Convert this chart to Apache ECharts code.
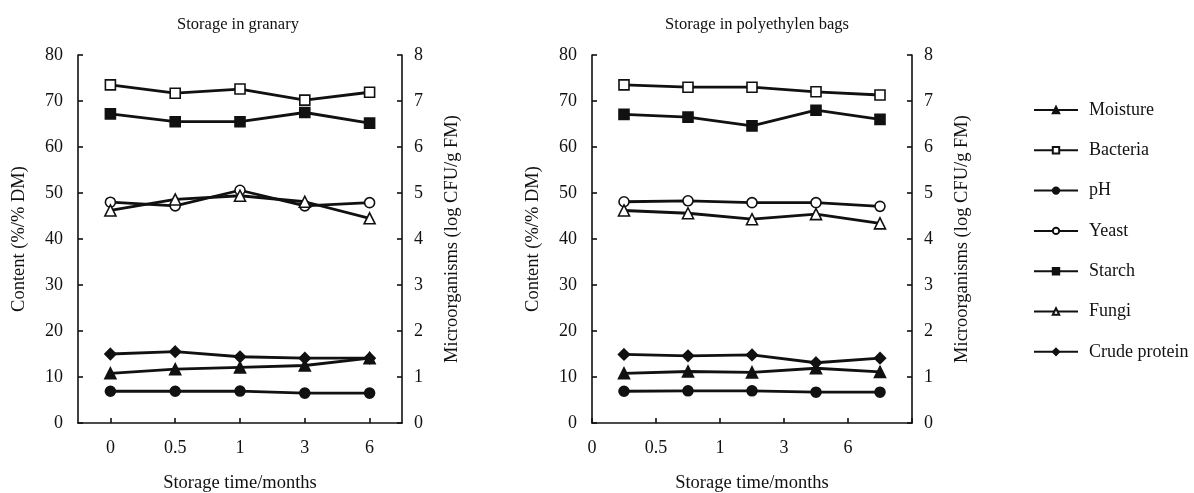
<!DOCTYPE html>
<html>
<head>
<meta charset="utf-8">
<script src="https://cdn.jsdelivr.net/npm/echarts@6/dist/echarts.min.js"></script>
<style>html,body{margin:0;padding:0;background:#fff}#c{width:1194px;height:493px}</style>
</head>
<body>
<div id="c"></div>
<script>
// Categories / tick labels
const categories = ['0', '0.5', '1', '3', '6'];
const bagTickLabels = ['0', '0.5', '1', '3', '6'];
const seriesNames = ['Moisture', 'Bacteria', 'pH', 'Yeast', 'Starch', 'Fungi', 'Crude protein'];

// Storage in granary
const moistureG = [10.8, 11.7, 12.1, 12.5, 14.1];
const bacteriaG = [7.35, 7.17, 7.26, 7.02, 7.19];
const phG = [6.9, 6.9, 6.95, 6.5, 6.5];
const yeastG = [4.80, 4.72, 5.06, 4.72, 4.79];
const starchG = [67.2, 65.5, 65.5, 67.5, 65.2];
const fungiG = [4.62, 4.86, 4.94, 4.81, 4.45];
const proteinG = [15.0, 15.5, 14.4, 14.1, 14.1];

// Storage in polyethylen bags
const moistureB = [10.8, 11.2, 11.0, 11.9, 11.1];
const bacteriaB = [7.35, 7.30, 7.30, 7.20, 7.13];
const phB = [6.9, 7.0, 7.0, 6.7, 6.7];
const yeastB = [4.81, 4.83, 4.79, 4.79, 4.71];
const starchB = [67.1, 66.5, 64.6, 68.0, 66.0];
const fungiB = [4.62, 4.56, 4.43, 4.54, 4.34];
const proteinB = [14.9, 14.6, 14.8, 13.1, 14.1];

const FONT = 'Liberation Serif';
const C = '#111';

// style per series: symbol, filled?, which y axis (0 = content, 1 = microorganisms)
const styleMap = {
  'Moisture': { symbol: 'triangle', filled: true, axis: 0 },
  'Bacteria': { symbol: 'rect', filled: false, axis: 1 },
  'pH': { symbol: 'circle', filled: true, axis: 0 },
  'Yeast': { symbol: 'circle', filled: false, axis: 1 },
  'Starch': { symbol: 'rect', filled: true, axis: 0 },
  'Fungi': { symbol: 'triangle', filled: false, axis: 1 },
  'Crude protein': { symbol: 'diamond', filled: true, axis: 0 }
};

const granary = {
  'Moisture': moistureG, 'Bacteria': bacteriaG, 'pH': phG, 'Yeast': yeastG,
  'Starch': starchG, 'Fungi': fungiG, 'Crude protein': proteinG
};
const bags = {
  'Moisture': moistureB, 'Bacteria': bacteriaB, 'pH': phB, 'Yeast': yeastB,
  'Starch': starchB, 'Fungi': fungiB, 'Crude protein': proteinB
};

function makeSeries(name, data, gridIdx, xIdx) {
  const s = styleMap[name];
  return {
    name: name,
    type: 'line',
    xAxisIndex: xIdx,
    yAxisIndex: gridIdx * 2 + s.axis,
    data: data,
    symbol: s.symbol,
    symbolSize: s.symbol === 'diamond' ? 11 : (s.symbol === 'triangle' ? 11 : 10),
    showAllSymbol: true,
    lineStyle: { color: C, width: 2.8 },
    itemStyle: { color: s.filled ? C : '#fff', borderColor: C, borderWidth: 1.6 },
    emphasis: { disabled: true },
    animation: false,
    z: s.filled ? 3 : 4
  };
}

const axisLine = { show: true, lineStyle: { color: C, width: 1.6 } };
const axisTick = { show: true, inside: true, length: 5, lineStyle: { color: C, width: 1.6 } };
const labelStyle = { fontFamily: FONT, fontSize: 18, color: C };
const nameStyle = { fontFamily: FONT, fontSize: 18.5, color: C };

function yAxes(gridIdx) {
  return [
    {
      type: 'value', gridIndex: gridIdx, position: 'left', min: 0, max: 80, interval: 10,
      axisLine, axisTick, splitLine: { show: false },
      axisLabel: Object.assign({ margin: 15 }, labelStyle),
      name: 'Content (%/% DM)', nameLocation: 'middle', nameGap: 49, nameRotate: 90,
      nameTextStyle: nameStyle
    },
    {
      type: 'value', gridIndex: gridIdx, position: 'right', min: 0, max: 8, interval: 1,
      axisLine, axisTick, splitLine: { show: false },
      axisLabel: Object.assign({ margin: 12 }, labelStyle),
      name: 'Microorganisms (log CFU/g FM)', nameLocation: 'middle', nameGap: 41, nameRotate: 90,
      nameTextStyle: nameStyle
    }
  ];
}

const series = [];
seriesNames.forEach(n => series.push(makeSeries(n, granary[n], 0, 0)));
seriesNames.forEach(n => series.push(makeSeries(n, bags[n], 1, 1)));

const option = {
  backgroundColor: '#fff',
  animation: false,
  title: [
    { text: 'Storage in granary', left: 233, top: 11, textAlign: 'center',
      textStyle: { fontFamily: FONT, fontSize: 16.5, fontWeight: 'normal', color: C } },
    { text: 'Storage in polyethylen bags', left: 752, top: 11, textAlign: 'center',
      textStyle: { fontFamily: FONT, fontSize: 16.5, fontWeight: 'normal', color: C } }
  ],
  legend: {
    data: seriesNames,
    orient: 'vertical',
    left: 1033,
    top: 101,
    padding: 0,
    itemWidth: 44,
    itemHeight: 8,
    itemGap: 22.3,
    textStyle: { fontFamily: FONT, fontSize: 18, color: C, lineHeight: 18, padding: [0, 0, 0, 6] },
    selectedMode: false
  },
  grid: [
    { left: 78, right: 792, top: 55, bottom: 70, containLabel: false, outerBoundsMode: 'none' },
    { left: 592, right: 282, top: 55, bottom: 70, containLabel: false, outerBoundsMode: 'none' }
  ],
  xAxis: [
    {
      type: 'category', gridIndex: 0, data: categories, boundaryGap: true,
      axisLine, axisTick: Object.assign({ alignWithLabel: true }, axisTick),
      axisLabel: Object.assign({ margin: 16, interval: 0 }, labelStyle),
      name: 'Storage time/months', nameLocation: 'middle', nameGap: 51,
      nameTextStyle: nameStyle
    },
    {
      type: 'category', gridIndex: 1, data: categories, boundaryGap: true,
      axisLine, axisTick: Object.assign({ alignWithLabel: false, interval: 0 }, axisTick),
      axisLabel: { show: false }
    },
    {
      type: 'value', gridIndex: 1, min: 0, max: 5, interval: 1, position: 'bottom',
      axisLine: { show: false }, axisTick: { show: false }, splitLine: { show: false },
      axisLabel: Object.assign({ margin: 16, formatter: v => (bagTickLabels[v] !== undefined ? bagTickLabels[v] : '') }, labelStyle),
      name: 'Storage time/months', nameLocation: 'middle', nameGap: 51,
      nameTextStyle: nameStyle
    }
  ],
  yAxis: yAxes(0).concat(yAxes(1)),
  series: series
};

const chart = echarts.init(document.getElementById('c'), null, { renderer: 'canvas' });
chart.setOption(option);
</script>
</body>
</html>
